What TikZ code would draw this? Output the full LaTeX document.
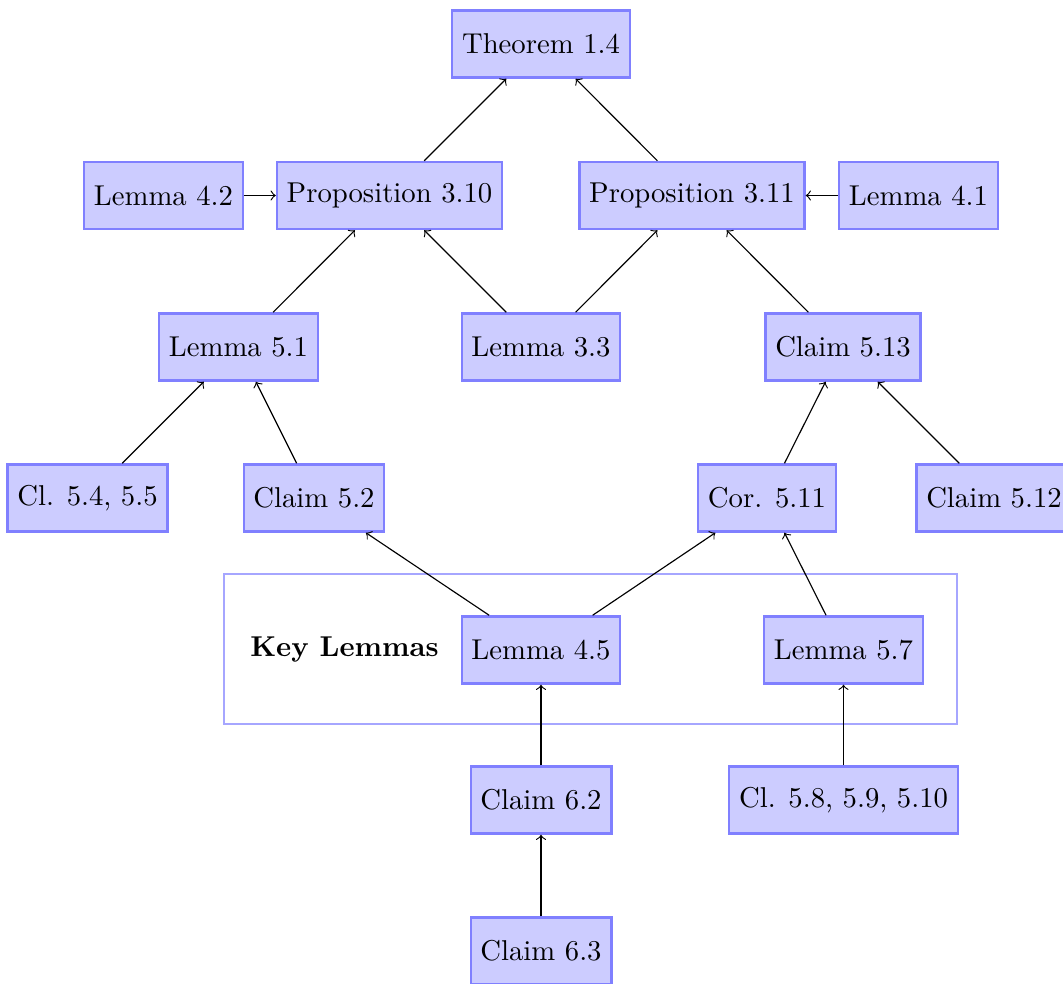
\documentclass[tikz,border=0pt]{standalone}
\usetikzlibrary{arrows}
\begin{document}
\begin{tikzpicture}[x=0.348432pt,y=-0.348432pt,
  res/.style={draw=blue!50,fill=blue!20,thick,inner xsep=3.4pt,minimum height=23.4pt},
  dep/.style={->}]
\useasboundingbox (0,0) rectangle (1063,983);
\node[draw=blue!35,minimum width=733*0.348432pt,minimum height=150*0.348432pt] (keybox) at (590.5,649) {};
\node[font=\bfseries] (key) at (344.5,650) {Key Lemmas};
\node[res] (t14) at (541,44) {Theorem 1.4};
\node[res] (l42) at (163.5,195.5) {Lemma 4.2};
\node[res] (p310) at (389.5,195.5) {Proposition 3.10};
\node[res] (p311) at (692,195.5) {Proposition 3.11};
\node[res] (l41) at (918.5,195.5) {Lemma 4.1};
\node[res] (l51) at (238.5,347) {Lemma 5.1};
\node[res] (l33) at (541,347) {Lemma 3.3};
\node[res] (c513) at (843,347) {Claim 5.13};
\node[res] (c545) at (87.5,498) {Cl. 5.4, 5.5};
\node[res] (c52) at (314,498) {Claim 5.2};
\node[res] (c511) at (767,498) {Cor. 5.11};
\node[res] (c512) at (994,498) {Claim 5.12};
\node[res] (l45) at (541,650) {Lemma 4.5};
\node[res] (l57) at (843.5,650) {Lemma 5.7};
\node[res] (c62) at (541,800) {Claim 6.2};
\node[res] (c5810) at (843.5,800) {Cl. 5.8, 5.9, 5.10};
\node[res] (c63) at (541,951) {Claim 6.3};
\draw[dep] (p310) -- (t14);
\draw[dep] (p311) -- (t14);
\draw[dep] (l42) -- (p310);
\draw[dep] (l41) -- (p311);
\draw[dep] (l51) -- (p310);
\draw[dep] (l33) -- (p310);
\draw[dep] (l33) -- (p311);
\draw[dep] (c513) -- (p311);
\draw[dep] (c545) -- (l51);
\draw[dep] (c52) -- (l51);
\draw[dep] (c511) -- (c513);
\draw[dep] (c512) -- (c513);
\draw[dep] (l45) -- (c52);
\draw[dep] (l45) -- (c511);
\draw[dep] (l57) -- (c511);
\draw[dep] (c62) -- (l45);
\draw[dep] (c63) -- (c62);
\draw[dep] (c5810) -- (l57);
\end{tikzpicture}
\end{document}
